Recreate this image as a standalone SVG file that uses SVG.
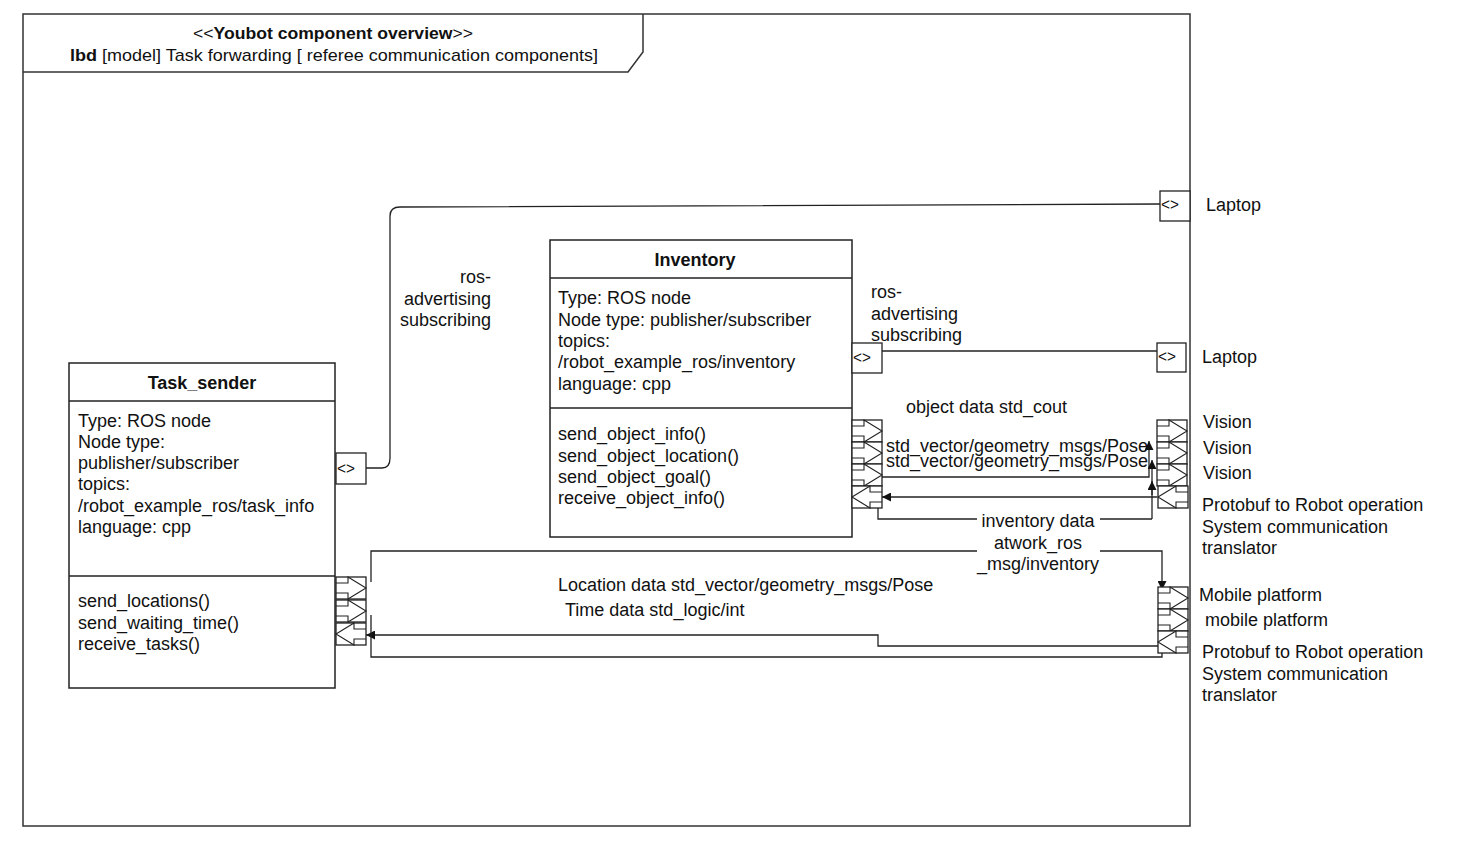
<svg xmlns="http://www.w3.org/2000/svg" width="1459" height="841" viewBox="0 0 1459 841">
  <style>
    text { font-family: "Liberation Sans", Arial, sans-serif; font-size: 18px; fill: #111; }
    .b { font-weight: bold; }
    .hdr { font-size: 17px; }
    .box { fill: #fff; stroke: #222; stroke-width: 1.5; }
    .sep { stroke: #222; stroke-width: 1.5; }
    .port { fill: #fff; stroke: #222; stroke-width: 1.3; }
    .glyph { fill: none; stroke: #222; stroke-width: 1.1; }
    .wire { fill: none; stroke: #222; stroke-width: 1.3; }
    .pp { font-size: 17px; }
  </style>
  <defs>
    <marker id="ah" viewBox="0 0 10 10" refX="10" refY="5" markerWidth="9" markerHeight="9" orient="auto" markerUnits="userSpaceOnUse">
      <path d="M0,0 L10,5 L0,10 Z" fill="#111"/>
    </marker>
    <!-- flow port pointing out (right) -->
    <g id="outport">
      <rect class="port" x="0" y="0" width="30" height="22"/>
      <path class="glyph" d="M0,6 H12 V0 L30,11 L12,22 V16 H0"/>
    </g>
    <!-- flow port pointing in (left) -->
    <g id="inport">
      <rect class="port" x="0" y="0" width="30" height="22"/>
      <path class="glyph" d="M30,6 H18 V0 L0,11 L18,22 V16 H30"/>
    </g>
  </defs>

  <rect width="1459" height="841" fill="#fff"/>

  <!-- diagram frame -->
  <g id="frame">
    <rect x="23" y="14" width="1167" height="812" fill="none" stroke="#333" stroke-width="1.5"/>
    <path d="M23,72 H628 L643,52 V14" fill="none" stroke="#333" stroke-width="1.5"/>
    <text class="hdr" x="193" y="39" textLength="280" lengthAdjust="spacingAndGlyphs">&lt;&lt;<tspan class="b">Youbot component overview</tspan>&gt;&gt;</text>
    <text class="hdr" x="70" y="61" textLength="528" lengthAdjust="spacingAndGlyphs"><tspan class="b">lbd</tspan> [model] Task forwarding [ referee communication components]</text>
  </g>

  <!-- connectors -->
  <g id="connectors">
    <path class="wire" d="M366,468 H382 Q390,468 390,458 V216 Q390,207 400,207 L1160,204"/>
    <path class="wire" d="M882,351 H1157"/>
    <path class="wire" d="M882,477 H1149 V441" marker-end="url(#ah)"/>
    <path class="wire" d="M1157,497 H882" marker-end="url(#ah)"/>
    <path class="wire" d="M1152,519 V460" marker-end="url(#ah)"/>
    <path class="wire" d="M1152,495 V481" marker-end="url(#ah)"/>
    <path class="wire" d="M878,507 V519 H977 M1100,519 H1152"/>
    <path class="wire" d="M371,582 V551 H977 M1100,551 H1162 V590" marker-end="url(#ah)"/>
    <path class="wire" d="M1158,646 H878 V635 H366" marker-end="url(#ah)"/>
    <path class="wire" d="M371,615 V657 H1162 V628" marker-end="url(#ah)"/>
  </g>

  <!-- Task_sender block -->
  <g id="task_sender">
    <rect class="box" x="69" y="363" width="266" height="325"/>
    <line class="sep" x1="69" y1="401" x2="335" y2="401"/>
    <line class="sep" x1="69" y1="576" x2="335" y2="576"/>
    <text class="b" x="202" y="389" text-anchor="middle">Task_sender</text>
    <text x="78" y="427">Type: ROS node</text>
    <text x="78" y="448">Node type:</text>
    <text x="78" y="469">publisher/subscriber</text>
    <text x="78" y="490">topics:</text>
    <text x="78" y="512">/robot_example_ros/task_info</text>
    <text x="78" y="533">language: cpp</text>
    <text x="78" y="607">send_locations()</text>
    <text x="78" y="629">send_waiting_time()</text>
    <text x="78" y="650">receive_tasks()</text>
    <rect class="port" x="336" y="453" width="30" height="31"/>
    <text class="pp" x="337" y="474" textLength="18" lengthAdjust="spacingAndGlyphs">&lt;&gt;</text>
    <use href="#outport" x="336" y="577"/>
    <use href="#outport" x="336" y="600"/>
    <use href="#inport" x="336" y="623"/>
  </g>

  <!-- Inventory block -->
  <g id="inventory">
    <rect class="box" x="550" y="240" width="302" height="297"/>
    <line class="sep" x1="550" y1="278" x2="852" y2="278"/>
    <line class="sep" x1="550" y1="408" x2="852" y2="408"/>
    <text class="b" x="695" y="266" text-anchor="middle">Inventory</text>
    <text x="558" y="304">Type: ROS node</text>
    <text x="558" y="326">Node type: publisher/subscriber</text>
    <text x="558" y="347">topics:</text>
    <text x="558" y="368">/robot_example_ros/inventory</text>
    <text x="558" y="390">language: cpp</text>
    <text x="558" y="440">send_object_info()</text>
    <text x="558" y="462">send_object_location()</text>
    <text x="558" y="483">send_object_goal()</text>
    <text x="558" y="504">receive_object_info()</text>
    <rect class="port" x="852" y="343" width="30" height="30"/>
    <text class="pp" x="853" y="363" textLength="18" lengthAdjust="spacingAndGlyphs">&lt;&gt;</text>
    <use href="#outport" x="852" y="420"/>
    <use href="#outport" x="852" y="442"/>
    <use href="#outport" x="852" y="464"/>
    <use href="#inport" x="852" y="486"/>
  </g>

  <!-- Laptop ports -->
  <g id="laptop_1">
    <rect class="port" x="1160" y="191" width="30" height="30"/>
    <text class="pp" x="1161" y="210" textLength="18" lengthAdjust="spacingAndGlyphs">&lt;&gt;</text>
    <text x="1206" y="211">Laptop</text>
  </g>
  <g id="laptop_2">
    <rect class="port" x="1157" y="343" width="29" height="29"/>
    <text class="pp" x="1158" y="362" textLength="18" lengthAdjust="spacingAndGlyphs">&lt;&gt;</text>
    <text x="1202" y="363">Laptop</text>
  </g>

  <!-- Vision / translator ports -->
  <g id="vision">
    <use href="#outport" x="1157" y="420"/>
    <use href="#outport" x="1157" y="442"/>
    <use href="#outport" x="1157" y="464"/>
    <use href="#inport" x="1158" y="486"/>
    <text x="1203" y="428">Vision</text>
    <text x="1203" y="454">Vision</text>
    <text x="1203" y="479">Vision</text>
    <text x="1202" y="511">Protobuf to Robot operation</text>
    <text x="1202" y="533">System communication</text>
    <text x="1202" y="554">translator</text>
  </g>

  <!-- Mobile platform ports -->
  <g id="mobile_platform">
    <use href="#outport" x="1158" y="587"/>
    <use href="#outport" x="1158" y="609"/>
    <use href="#inport" x="1158" y="631"/>
    <text x="1199" y="601">Mobile platform</text>
    <text x="1205" y="626">mobile platform</text>
    <text x="1202" y="658">Protobuf to Robot operation</text>
    <text x="1202" y="680">System communication</text>
    <text x="1202" y="701">translator</text>
  </g>

  <!-- connector labels -->
  <g id="labels">
    <text x="491" y="283" text-anchor="end">ros-</text>
    <text x="491" y="305" text-anchor="end">advertising</text>
    <text x="491" y="326" text-anchor="end">subscribing</text>
    <text x="871" y="298">ros-</text>
    <text x="871" y="320">advertising</text>
    <text x="871" y="341">subscribing</text>
    <text x="906" y="413">object data std_cout</text>
    <text x="886" y="452">std_vector/geometry_msgs/Pose</text>
    <text x="886" y="467">std_vector/geometry_msgs/Pose</text>
    <text x="1038" y="527" text-anchor="middle">inventory data</text>
    <text x="1038" y="549" text-anchor="middle">atwork_ros</text>
    <text x="1038" y="570" text-anchor="middle">_msg/inventory</text>
    <text x="558" y="591">Location data std_vector/geometry_msgs/Pose</text>
    <text x="565" y="616">Time data std_logic/int</text>
  </g>
</svg>
